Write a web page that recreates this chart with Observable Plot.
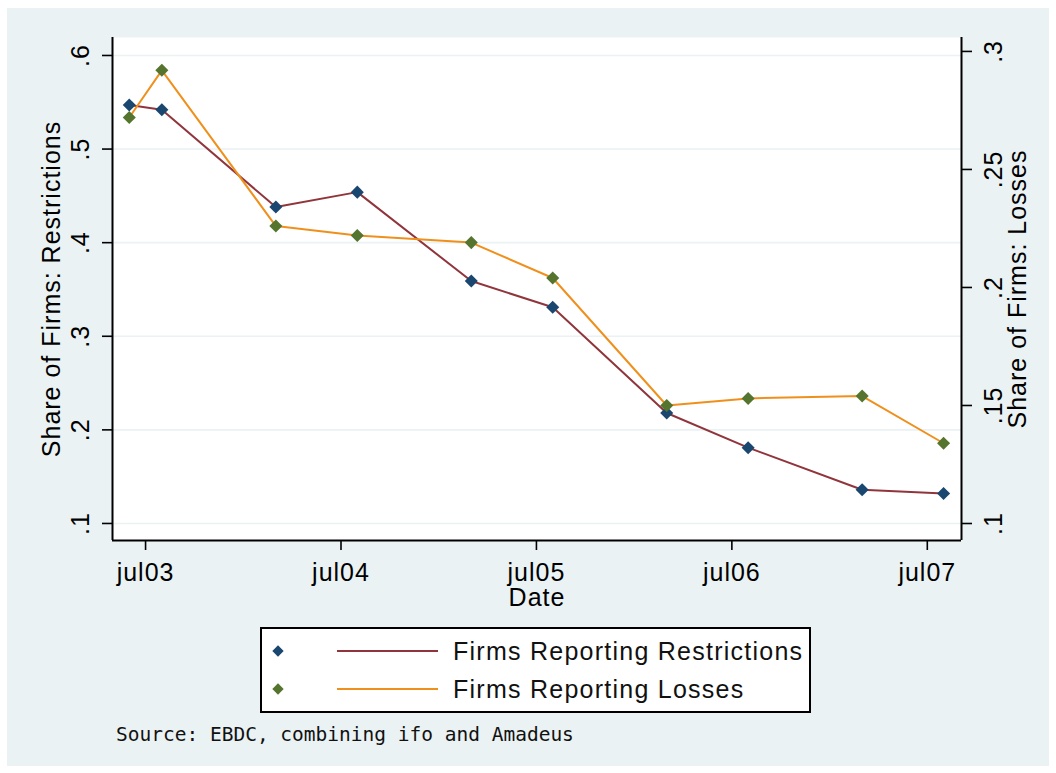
<!DOCTYPE html>
<html>
<head>
<meta charset="utf-8">
<script src="https://cdn.jsdelivr.net/npm/d3@7"></script>
<script src="https://cdn.jsdelivr.net/npm/@observablehq/plot@0.6"></script>
<style>
  html, body { margin: 0; padding: 0; background: #ffffff; }
  #page { position: relative; width: 1056px; height: 773px; overflow: hidden; font-family: "Liberation Sans", Arial, sans-serif; }
  #panel { position: absolute; left: 7px; top: 8px; width: 1042px; height: 758px; background: #eaf2f3; }
  #chart { position: absolute; left: 0; top: 0; }
  #chart text { letter-spacing: 1px; }
  #legend { position: absolute; left: 260px; top: 627px; }
  #source { position: absolute; left: 116px; top: 723px; font-family: "DejaVu Sans Mono", monospace; font-size: 19.5px; color: #111; white-space: nowrap; }
</style>
</head>
<body>
<div id="page">
  <div id="panel"></div>
  <div id="chart"></div>
  <div id="legend"></div>
  <div id="source">Source: EBDC, combining ifo and Amadeus</div>
</div>
<script>
// ---- data ----
const months = ["2003-06","2003-08","2004-03","2004-08","2005-03","2005-08","2006-03","2006-08","2007-03","2007-08"];
const restrictions = [0.547, 0.542, 0.438, 0.454, 0.359, 0.331, 0.218, 0.181, 0.136, 0.132];
const losses       = [0.272, 0.292, 0.226, 0.222, 0.219, 0.204, 0.150, 0.153, 0.154, 0.134];
const xTickDates  = ["2003-07","2004-07","2005-07","2006-07","2007-07"];
const xTickLabels = ["jul03","jul04","jul05","jul06","jul07"];
const leftTicks  = [0.1, 0.2, 0.3, 0.4, 0.5, 0.6];
const rightTicks = [0.1, 0.15, 0.2, 0.25, 0.3];
const seriesNames = ["Firms Reporting Restrictions", "Firms Reporting Losses"];
const leftTitle = "Share of Firms: Restrictions";
const rightTitle = "Share of Firms: Losses";
const xTitle = "Date";

// ---- styling ----
const colRestrLine = "#90353b", colRestrDot = "#1a476f";
const colLossLine = "#f0901c", colLossDot = "#55752f";
const gridColor = "#eaf2f3";
const FONT = "25px";

// month index relative to jul03
const toIdx = s => { const [y, m] = s.split("-").map(Number); return (y - 2003) * 12 + (m - 7); };
const xDomain = [-2.03, 50.1];
const yDomain = [0.0818, 0.6192];
const yRightDomain = [0.0928, 0.3059];
const r2l = d3.scaleLinear().domain(yRightDomain).range(yDomain);
const fmt = d => String(+d.toFixed(2)).replace(/^0\./, ".");
const xTickIdx = xTickDates.map(toIdx);

const restr = months.map((m, i) => ({t: toIdx(m), v: restrictions[i]}));
const loss  = months.map((m, i) => ({t: toIdx(m), v: r2l(losses[i])}));

const chart = Plot.plot({
  width: 1056, height: 620,
  marginLeft: 112, marginRight: 95, marginTop: 37, marginBottom: 80,
  style: {background: "transparent", fontFamily: '"Liberation Sans", Arial, sans-serif', fontSize: FONT, color: "#000", overflow: "visible"},
  x: {domain: xDomain},
  y: {domain: yDomain},
  marks: [
    Plot.frame({fill: "white", stroke: null}),
    Plot.ruleY(leftTicks, {stroke: gridColor, strokeWidth: 1.6}),
    Plot.line(restr, {x: "t", y: "v", stroke: colRestrLine, strokeWidth: 2}),
    Plot.dot(restr, {x: "t", y: "v", symbol: "square", rotate: 45, r: 5.2, fill: colRestrDot, stroke: null}),
    Plot.line(loss, {x: "t", y: "v", stroke: colLossLine, strokeWidth: 2}),
    Plot.dot(loss, {x: "t", y: "v", symbol: "square", rotate: 45, r: 5.2, fill: colLossDot, stroke: null}),
    Plot.ruleX([xDomain[0]], {stroke: "#000", strokeWidth: 2}),
    Plot.ruleX([xDomain[1]], {stroke: "#000", strokeWidth: 2}),
    Plot.ruleY([yDomain[0]], {stroke: "#000", strokeWidth: 2}),
    Plot.axisX({ticks: xTickIdx, tickFormat: i => xTickLabels[xTickIdx.indexOf(i)], label: null,
      tickSize: 10, tickPadding: 13, fontSize: FONT, stroke: "#000", strokeWidth: 1.6, fill: "#000"}),
    Plot.axisY({anchor: "left", ticks: leftTicks, tickSize: 10, tickFormat: () => "", label: null, stroke: "#000", strokeWidth: 1.6}),
    Plot.axisY({anchor: "right", ticks: rightTicks.map(r2l), tickSize: 10, tickFormat: () => "", label: null, stroke: "#000", strokeWidth: 1.6}),
    Plot.text(leftTicks, {y: d => d, text: fmt, frameAnchor: "left", dx: -32, rotate: -90,
      textAnchor: "middle", lineAnchor: "middle", fontSize: FONT, fill: "#000"}),
    Plot.text(rightTicks, {y: d => r2l(d), text: fmt, frameAnchor: "right", dx: 32, rotate: -90,
      textAnchor: "middle", lineAnchor: "middle", fontSize: FONT, fill: "#000"}),
    Plot.text([leftTitle], {text: d => d, frameAnchor: "left", dx: -61, rotate: -90,
      textAnchor: "middle", lineAnchor: "middle", fontSize: FONT, fill: "#000"}),
    Plot.text([rightTitle], {text: d => d, frameAnchor: "right", dx: 56, rotate: -90,
      textAnchor: "middle", lineAnchor: "middle", fontSize: FONT, fill: "#000"}),
    Plot.text([xTitle], {text: d => d, frameAnchor: "bottom", dy: 57,
      textAnchor: "middle", lineAnchor: "middle", fontSize: FONT, fill: "#000"})
  ]
});
document.getElementById("chart").appendChild(chart);

// ---- legend ----
const ns = "http://www.w3.org/2000/svg";
const lg = document.createElementNS(ns, "svg");
lg.setAttribute("width", 552); lg.setAttribute("height", 87);
lg.style.overflow = "visible";
const legendItems = [
  {name: seriesNames[0], dot: colRestrDot, line: colRestrLine, cy: 24},
  {name: seriesNames[1], dot: colLossDot, line: colLossLine, cy: 62}
];
let html = `<rect x="1" y="1" width="549" height="84" fill="white" stroke="#000" stroke-width="2"/>`;
for (const it of legendItems) {
  html += `<rect x="${18 - 4}" y="${it.cy - 4}" width="8" height="8" fill="${it.dot}" transform="rotate(45 18 ${it.cy})"/>`;
  html += `<line x1="77" x2="178" y1="${it.cy}" y2="${it.cy}" stroke="${it.line}" stroke-width="2"/>`;
  html += `<text x="193" y="${it.cy}" dy="0.35em" font-size="25" letter-spacing="1.25" font-family="Liberation Sans, Arial, sans-serif" fill="#111">${it.name}</text>`;
}
lg.innerHTML = html;
document.getElementById("legend").appendChild(lg);
</script>
</body>
</html>
